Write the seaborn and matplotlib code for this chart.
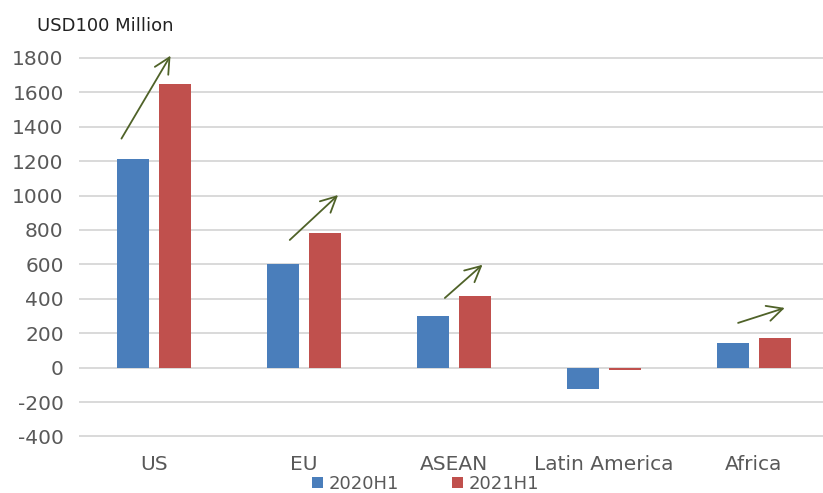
import matplotlib
matplotlib.use("Agg")
import matplotlib.pyplot as plt
import seaborn as sns
import pandas as pd

# Outward investment by destination, first half of each year (USD 100 million)
regions = ["US", "EU", "ASEAN", "Latin America", "Africa"]
values_2020h1 = [1210, 600, 300, -125, 145]
values_2021h1 = [1650, 780, 415, -13, 175]
periods = ["2020H1", "2021H1"]
y_ticks = [-400, -200, 0, 200, 400, 600, 800, 1000, 1200, 1400, 1600, 1800]

# Growth arrows drawn over the growing regions: (x0, y0, x1, y1) in data units
growth_arrows = [
    (-0.217, 1331, 0.110, 1813),
    (0.905, 742, 1.227, 1003),
    (1.939, 405, 2.190, 598),
    (3.894, 260, 4.205, 347),
]

df = pd.DataFrame({
    "region": regions * 2,
    "value": values_2020h1 + values_2021h1,
    "period": [periods[0]] * len(regions) + [periods[1]] * len(regions),
})

sns.set_theme(style="white")
plt.rcParams["font.family"] = ["DejaVu Sans"]
plt.rcParams["axes.unicode_minus"] = False

fig = plt.figure(figsize=(8.23, 4.93), dpi=100)
ax = fig.add_axes([0.096, 0.1136, 0.904, 0.770])

sns.barplot(
    data=df, x="region", y="value", hue="period", order=regions,
    hue_order=periods, palette=["#4A7EBB", "#C0504D"], saturation=1,
    width=0.564, gap=0.23, linewidth=0, ax=ax, zorder=3,
)

ax.set_xlim(-0.5, 4.46)
ax.set_ylim(-403, 1803)
ax.set_yticks(y_ticks)
ax.yaxis.grid(True, color="#D9D9D9", linewidth=1.4, zorder=0)
ax.set_axisbelow(True)
for s in ax.spines.values():
    s.set_visible(False)

ax.set_xlabel("")
ax.set_ylabel("")
ax.tick_params(axis="y", length=0, pad=11, labelsize=14.5, labelcolor="#595959")
ax.tick_params(axis="x", length=0, pad=13, labelsize=14.5, labelcolor="#595959")

for x0, y0, x1, y1 in growth_arrows:
    ax.annotate(
        "", xy=(x1, y1), xytext=(x0, y0),
        arrowprops=dict(arrowstyle="->", color="#4F6228", lw=1.3,
                        mutation_scale=28, shrinkA=0, shrinkB=0),
        zorder=4, annotation_clip=False,
    )

ax.legend(
    loc="center", bbox_to_anchor=(0.466, -0.124), ncol=2, frameon=False,
    fontsize=13, handlelength=0.6, handleheight=0.6, handletextpad=0.35,
    columnspacing=2.9, labelcolor="#595959",
)

fig.text(0.045, 0.948, "USD100 Million", fontsize=13, color="#222222",
         ha="left", va="center")

fig.savefig("out.png", dpi=100)
